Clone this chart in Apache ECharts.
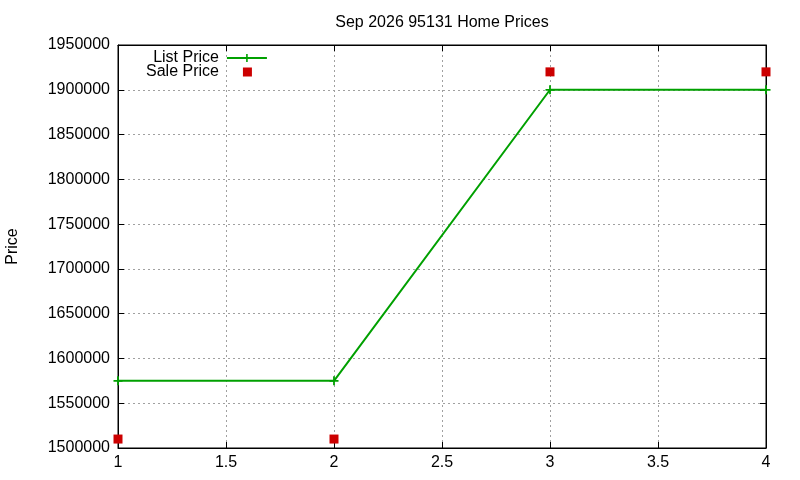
<!DOCTYPE html>
<html>
<head>
<meta charset="utf-8">
<script src="https://cdn.jsdelivr.net/npm/echarts@6/dist/echarts.min.js"></script>
<style>
html, body { margin: 0; padding: 0; background: #fff; }
#chart { width: 800px; height: 480px; }
</style>
</head>
<body>
<div id="chart"></div>
<script>
var months = [1, 2, 3, 4];
var listPrice = [1575000, 1575000, 1900000, 1900000];
var salePrice = [1510000, 1510000, 1920000, 1920000];

function pairs(xs, ys) {
    return xs.map(function (x, i) { return [x, ys[i]]; });
}

var plusPath = 'path://M4,0H6V4H10V6H6V10H4V6H0V4H4Z';
// small square centred in a 40x10 legend slot
var legendSquare = 'path://M0,0M40,10M16,0.5H25V9.5H16Z';
var font = 'Liberation Sans, Arial, sans-serif';
var fs = 16;

var chart = echarts.init(document.getElementById('chart'));
var gridLine = { show: true, lineStyle: { color: '#a0a0a0', width: 1, type: [2, 3] } };
var tick = { show: true, inside: true, length: 6, lineStyle: { color: '#000' } };
var axisLine = { show: true, lineStyle: { color: '#000' } };
var option = {
    animation: false,
    title: {
        text: 'Sep 2026 95131 Home Prices',
        left: 437,
        top: 10,
        textAlign: 'center',
        textStyle: { fontFamily: font, fontSize: fs, fontWeight: 'normal', color: '#000' }
    },
    legend: {
        orient: 'vertical',
        left: 141,
        top: 45,
        align: 'right',
        itemWidth: 40,
        itemHeight: 10,
        itemGap: -2,
        textStyle: { fontFamily: font, fontSize: fs, color: '#000', lineHeight: 15, padding: [0, 3, 0, 0] },
        data: [
            { name: 'List Price' },
            { name: 'Sale Price', icon: legendSquare, itemStyle: { color: '#cc0000' } }
        ]
    },
    grid: {
        left: 118, right: 34, top: 45, bottom: 32,
        outerBoundsMode: 'none',
        show: true, borderColor: '#000', borderWidth: 1, backgroundColor: 'transparent'
    },
    xAxis: [{
        type: 'value', min: 1, max: 4, interval: 0.5,
        axisLine: axisLine, axisTick: tick,
        axisLabel: { fontFamily: font, fontSize: fs, color: '#000', margin: 7 },
        splitLine: gridLine
    }, {
        type: 'value', min: 1, max: 4, interval: 0.5, position: 'top',
        axisLine: axisLine, axisTick: tick,
        axisLabel: { show: false },
        splitLine: { show: false }
    }],
    yAxis: [{
        type: 'value', min: 1500000, max: 1950000, interval: 50000,
        name: 'Price', nameLocation: 'middle', nameGap: 97, nameRotate: 90,
        nameTextStyle: { fontFamily: font, fontSize: fs, color: '#000' },
        axisLine: axisLine, axisTick: tick,
        axisLabel: {
            fontFamily: font, fontSize: fs, color: '#000', margin: 8,
            formatter: function (v) { return String(v); }
        },
        splitLine: gridLine
    }, {
        type: 'value', min: 1500000, max: 1950000, interval: 50000, position: 'right',
        axisLine: axisLine, axisTick: tick,
        axisLabel: { show: false },
        splitLine: { show: false }
    }],
    series: [{
        name: 'List Price',
        type: 'line',
        data: pairs(months, listPrice),
        symbol: plusPath,
        symbolSize: 9,
        showAllSymbol: true,
        color: '#00a000',
        lineStyle: { color: '#00a000', width: 2 },
        itemStyle: { color: '#00a000' }
    }, {
        name: 'Sale Price',
        type: 'scatter',
        data: pairs(months, salePrice),
        symbol: 'rect',
        symbolSize: 9,
        itemStyle: { color: '#cc0000', opacity: 1 }
    }]
};
chart.setOption(option);
</script>
</body>
</html>
